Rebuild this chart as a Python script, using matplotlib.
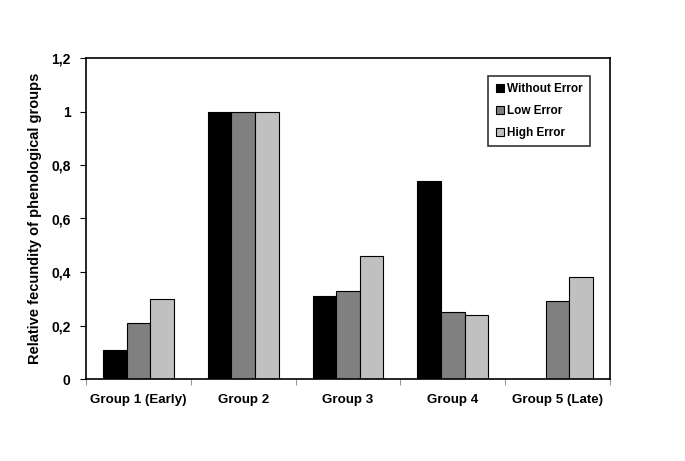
import numpy as np
import matplotlib.pyplot as plt
from matplotlib.ticker import FuncFormatter

# data
groups = ["Group 1 (Early)", "Group 2", "Group 3", "Group 4", "Group 5 (Late)"]
without_error = [0.11, 1.0, 0.31, 0.74, 0.0]
low_error = [0.21, 1.0, 0.33, 0.25, 0.29]
high_error = [0.30, 1.0, 0.46, 0.24, 0.38]

series = [
    ("Without Error", without_error, "#000000"),
    ("Low Error", low_error, "#808080"),
    ("High Error", high_error, "#C0C0C0"),
]

plt.rcParams["font.family"] = ["Liberation Sans", "DejaVu Sans"]
plt.rcParams["font.weight"] = "bold"

fig = plt.figure(figsize=(6.85, 4.61), dpi=100)
ax = fig.add_axes([86 / 685, 1 - 379 / 461, 524 / 685, 321 / 461])

x = np.arange(len(groups))
width = 0.225
for i, (name, vals, col) in enumerate(series):
    ax.bar(x + (i - 1) * width, vals, width, color=col, edgecolor="black",
           linewidth=0.8, label=name)

ax.set_xlim(-0.5, len(groups) - 0.5)
ax.set_ylim(0, 1.2)
ax.set_yticks(np.arange(0, 1.21, 0.2))
ax.yaxis.set_major_formatter(FuncFormatter(
    lambda v, p: "0" if abs(v) < 1e-9 else ("1" if abs(v - 1) < 1e-9 else f"{v:.1f}".replace(".", ","))))

# category boundary ticks, labels in the middle
ax.set_xticks(np.arange(-0.5, len(groups), 1.0))
ax.set_xticklabels([])
ax.set_xticks(x, minor=True)
ax.set_xticklabels(groups, minor=True)
ax.tick_params(axis="x", which="minor", length=0, pad=11, labelsize=9.6)
ax.tick_params(axis="x", which="major", length=4, color="#999999", direction="out")
ax.tick_params(axis="y", length=4, direction="out", labelsize=10, pad=7)

for sp in ax.spines.values():
    sp.set_linewidth(1.2)
    sp.set_color("black")

ax.set_ylabel("Relative fecundity of phenological groups", fontsize=10.5,
              fontweight="bold", labelpad=7)

leg = ax.legend(loc="upper right", bbox_to_anchor=(0.962, 0.944), frameon=True,
                fancybox=False, edgecolor="black", fontsize=8.5,
                handlelength=0.7, handleheight=0.7, handletextpad=0.3,
                labelspacing=0.85, borderpad=0.6, borderaxespad=0)
leg.get_frame().set_linewidth(1.2)
leg._legend_box.sep = 0
fig.canvas.draw()

fig.savefig("out.png", dpi=100)
